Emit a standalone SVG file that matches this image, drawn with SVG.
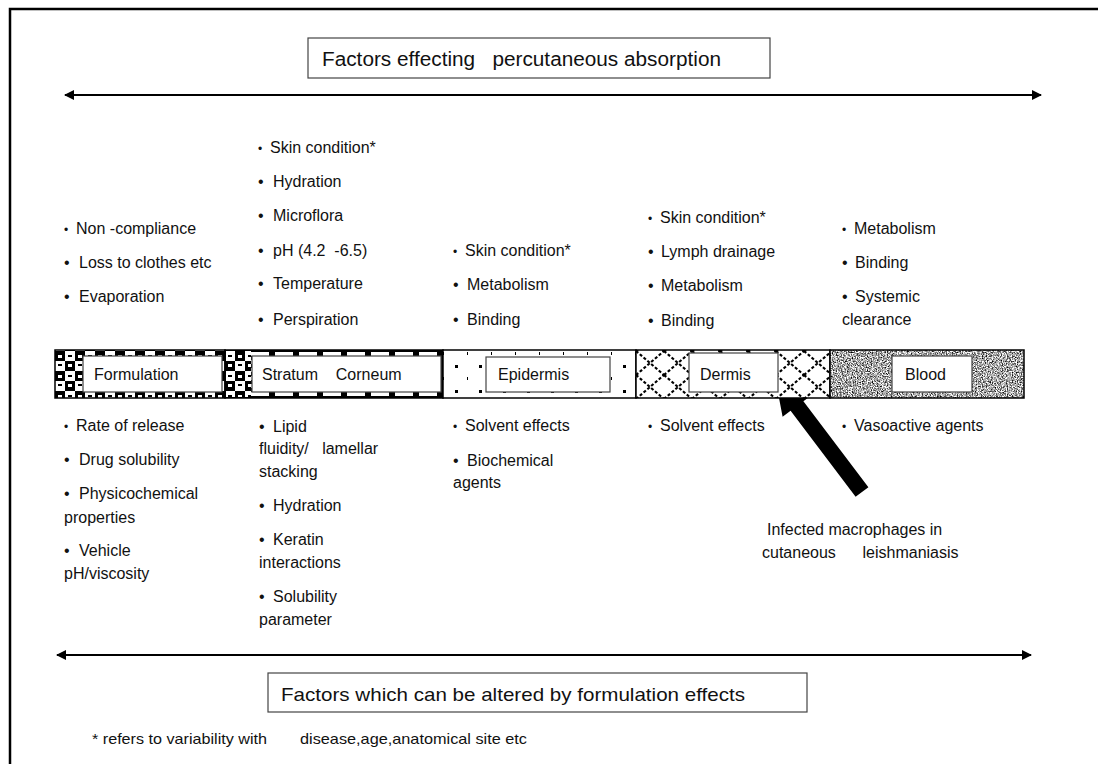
<svg xmlns="http://www.w3.org/2000/svg" width="1098" height="764" viewBox="0 0 1098 764">
<style>
text{font-family:"Liberation Sans",Arial,sans-serif;fill:#111;white-space:pre}
.t{font-size:16px}
.hd{font-size:20px}
.box{fill:#fff;stroke:#444;stroke-width:1.2}
.ln{stroke:#000;stroke-width:2;fill:none}
.seg{stroke:#000;stroke-width:1.5}
</style>
<defs>
<marker id="ah" viewBox="0 0 10 10" refX="9" refY="5" markerWidth="5" markerHeight="5" orient="auto-start-reverse">
<path d="M0,0 L10,5 L0,10 z" fill="#000"/>
</marker>
<pattern id="chk" width="20" height="20" patternUnits="userSpaceOnUse" x="55" y="351">
<rect width="20" height="20" fill="#fff"/>
<rect x="0" y="0" width="10" height="10" fill="#000"/>
<rect x="10" y="10" width="10" height="10" fill="#000"/>
<rect x="3" y="4" width="4" height="3" fill="#fff"/>
<rect x="13" y="13" width="4" height="3" fill="#fff"/>
<rect x="13" y="4" width="4" height="2" fill="#000"/>
<rect x="3" y="13" width="4" height="2" fill="#000"/>
</pattern>
<pattern id="dash" width="24" height="8" patternUnits="userSpaceOnUse" x="225" y="350">
<rect width="24" height="8" fill="#000"/>
<rect x="2" y="2" width="18" height="4" fill="#fff"/>
</pattern>
<pattern id="dots" width="24" height="25" patternUnits="userSpaceOnUse" x="444" y="340">
<rect width="24" height="25" fill="#fff"/>
<rect x="23" y="12" width="3" height="3" fill="#000"/>
<rect x="11" y="0" width="3" height="3" fill="#000"/>
</pattern>
<pattern id="zig" width="28" height="24" patternUnits="userSpaceOnUse" x="636" y="351">
<rect width="28" height="24" fill="#fff"/>
<path d="M0,0 L14,12 L28,0 M0,24 L14,12 L28,24" stroke="#000" stroke-width="2.2" stroke-dasharray="3 2" fill="none"/>
</pattern>
<filter id="noise" x="0" y="0" width="1" height="1" color-interpolation-filters="sRGB">
<feTurbulence type="fractalNoise" baseFrequency="0.8" numOctaves="2" seed="3" result="n"/>
<feColorMatrix in="n" type="matrix" values="2.2 0 0 0 -0.45  2.2 0 0 0 -0.45  2.2 0 0 0 -0.45  0 0 0 0 1" result="g"/>
<feComposite in="g" in2="SourceGraphic" operator="in"/>
</filter>
</defs>

<g id="frame">
<path d="M10,764 L10,9 L1098,9" stroke="#000" stroke-width="2.5" fill="none"/>
</g>

<g id="title">
<rect class="box" x="308" y="38" width="462" height="40"/>
<text class="hd" x="322" y="66" textLength="399" lengthAdjust="spacingAndGlyphs">Factors effecting   percutaneous absorption</text>
</g>

<g id="connectors">
<line class="ln" x1="65" y1="95" x2="1041" y2="95" marker-start="url(#ah)" marker-end="url(#ah)"/>
<line class="ln" x1="57" y1="655" x2="1031" y2="655" marker-start="url(#ah)" marker-end="url(#ah)"/>
<polygon points="775,377 811.4,395.2 803.4,401.2 868.4,487.2 855.6,496.8 790.6,410.8 782.6,416.8" fill="#000"/>
</g>

<g id="formulation">
<rect class="seg" x="55" y="350" width="170" height="48" fill="url(#chk)"/>
<rect class="box" x="83" y="356" width="139" height="36"/>
<text class="t" x="94" y="380">Formulation</text>
</g>

<g id="stratum-corneum">
<rect class="seg" x="225" y="350" width="218" height="48" fill="url(#dash)"/>
<rect x="226" y="351" width="25" height="46" fill="url(#chk)"/>
<rect class="box" x="252" y="356" width="189" height="36"/>
<text class="t" x="262" y="380">Stratum    Corneum</text>
</g>

<g id="epidermis">
<rect class="seg" x="443" y="350" width="193" height="48" fill="url(#dots)"/>
<rect class="box" x="486" y="357" width="124" height="35"/>
<text class="t" x="498" y="380">Epidermis</text>
</g>

<g id="dermis">
<rect class="seg" x="636" y="350" width="194" height="48" fill="url(#zig)"/>
<rect class="box" x="689" y="353" width="89" height="39"/>
<text class="t" x="700" y="380">Dermis</text>
</g>

<g id="blood">
<rect x="830" y="350" width="194" height="48" fill="#999" filter="url(#noise)"/>
<rect x="830" y="350" width="194" height="48" fill="none" class="seg"/>
<rect class="box" x="892" y="356" width="80" height="36"/>
<text class="t" x="905" y="380">Blood</text>
</g>

<g id="upper-formulation">
<text class="t" x="64" y="234"><tspan font-size="12">•</tspan><tspan x="76">Non -compliance</tspan></text>
<text class="t" x="64" y="268">•<tspan x="79">Loss to clothes etc</tspan></text>
<text class="t" x="64" y="302">•<tspan x="79">Evaporation</tspan></text>
</g>

<g id="upper-stratum">
<text class="t" x="258" y="153"><tspan font-size="12">•</tspan><tspan x="270">Skin condition*</tspan></text>
<text class="t" x="258" y="187">•<tspan x="273">Hydration</tspan></text>
<text class="t" x="258" y="221">•<tspan x="273">Microflora</tspan></text>
<text class="t" x="258" y="256">•<tspan x="273">pH (4.2  -6.5)</tspan></text>
<text class="t" x="258" y="289">•<tspan x="273">Temperature</tspan></text>
<text class="t" x="258" y="325">•<tspan x="273">Perspiration</tspan></text>
</g>

<g id="upper-epidermis">
<text class="t" x="453" y="256"><tspan font-size="12">•</tspan><tspan x="465">Skin condition*</tspan></text>
<text class="t" x="453" y="290">•<tspan x="467">Metabolism</tspan></text>
<text class="t" x="453" y="325">•<tspan x="467">Binding</tspan></text>
</g>

<g id="upper-dermis">
<text class="t" x="648" y="223"><tspan font-size="12">•</tspan><tspan x="660">Skin condition*</tspan></text>
<text class="t" x="648" y="257">•<tspan x="661">Lymph drainage</tspan></text>
<text class="t" x="648" y="291">•<tspan x="661">Metabolism</tspan></text>
<text class="t" x="648" y="326">•<tspan x="661">Binding</tspan></text>
</g>

<g id="upper-blood">
<text class="t" x="842" y="234"><tspan font-size="12">•</tspan><tspan x="854">Metabolism</tspan></text>
<text class="t" x="842" y="268">•<tspan x="855">Binding</tspan></text>
<text class="t" x="842" y="302">•<tspan x="855">Systemic</tspan></text>
<text class="t" x="842" y="325">clearance</text>
</g>

<g id="lower-formulation">
<text class="t" x="64" y="431"><tspan font-size="12">•</tspan><tspan x="76">Rate of release</tspan></text>
<text class="t" x="64" y="465">•<tspan x="79">Drug solubility</tspan></text>
<text class="t" x="64" y="499">•<tspan x="79">Physicochemical</tspan></text>
<text class="t" x="64" y="523">properties</text>
<text class="t" x="64" y="556">•<tspan x="79">Vehicle</tspan></text>
<text class="t" x="64" y="579">pH/viscosity</text>
</g>

<g id="lower-stratum">
<text class="t" x="259" y="432">•<tspan x="273">Lipid</tspan></text>
<text class="t" x="259" y="454">fluidity/   lamellar</text>
<text class="t" x="259" y="477">stacking</text>
<text class="t" x="259" y="511">•<tspan x="273">Hydration</tspan></text>
<text class="t" x="259" y="545">•<tspan x="273">Keratin</tspan></text>
<text class="t" x="259" y="568">interactions</text>
<text class="t" x="259" y="602">•<tspan x="273">Solubility</tspan></text>
<text class="t" x="259" y="625">parameter</text>
</g>

<g id="lower-epidermis">
<text class="t" x="453" y="431"><tspan font-size="12">•</tspan><tspan x="465">Solvent effects</tspan></text>
<text class="t" x="453" y="466">•<tspan x="467">Biochemical</tspan></text>
<text class="t" x="453" y="488">agents</text>
</g>

<g id="lower-dermis">
<text class="t" x="648" y="431"><tspan font-size="12">•</tspan><tspan x="660">Solvent effects</tspan></text>
</g>

<g id="lower-blood">
<text class="t" x="842" y="431"><tspan font-size="12">•</tspan><tspan x="854">Vasoactive agents</tspan></text>
</g>

<g id="macrophage-label">
<text class="t" x="767" y="535">Infected macrophages in</text>
<text class="t" x="762" y="558">cutaneous      leishmaniasis</text>
</g>

<g id="bottom-box">
<rect class="box" x="268" y="673" width="539" height="39"/>
<text x="281" y="701" font-size="19" textLength="464" lengthAdjust="spacingAndGlyphs">Factors which can be altered by formulation effects</text>
</g>

<g id="footnote">
<text x="92" y="744" font-size="15" textLength="175" lengthAdjust="spacingAndGlyphs">* refers to variability with</text>
<text x="300" y="744" font-size="15" textLength="227" lengthAdjust="spacingAndGlyphs">disease,age,anatomical site etc</text>
</g>
</svg>
